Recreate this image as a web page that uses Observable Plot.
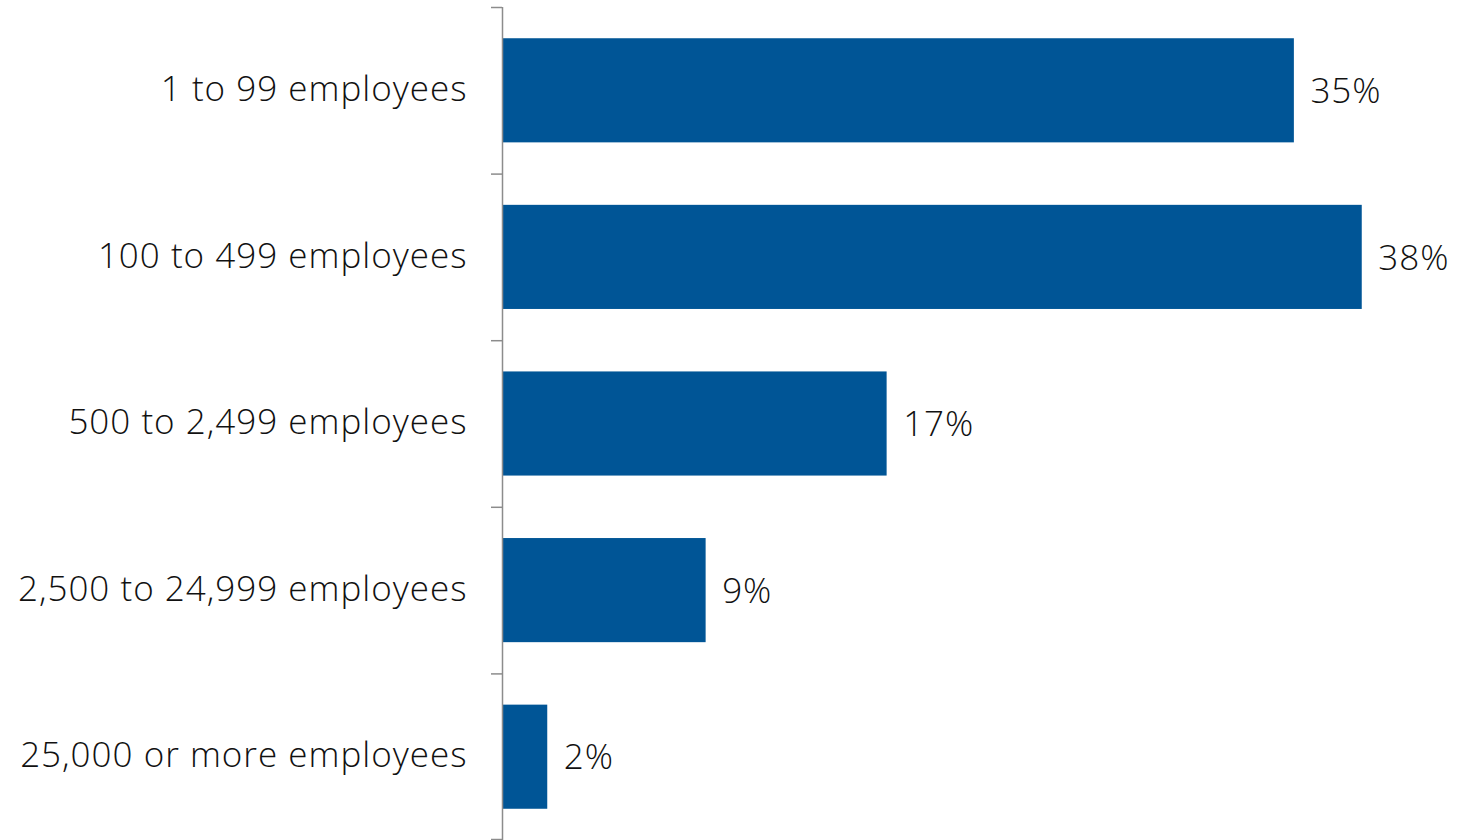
<!DOCTYPE html>
<html>
<head>
<meta charset="utf-8">
<script src="https://cdn.jsdelivr.net/npm/d3@7"></script>
<script src="https://cdn.jsdelivr.net/npm/@observablehq/plot@0.6"></script>
<style>
  html, body { margin: 0; padding: 0; background: #fff; }
  #chart svg { display: block; }
</style>
</head>
<body>
<div id="chart"></div>
<script>
const categories = [
  "1 to 99 employees",
  "100 to 499 employees",
  "500 to 2,499 employees",
  "2,500 to 24,999 employees",
  "25,000 or more employees"
];
const values = [35, 38, 17, 9, 2];

const data = categories.map((c, i) => ({category: c, value: values[i]}));

const W = 1468, H = 840, mTop = 7, mBottom = 0;
const step = (H - mTop - mBottom) / categories.length;
const font = "'Open Sans', Lato, sans-serif";
const fs = 35;
const axisColor = "#8c8c8c";

const chart = Plot.plot({
  width: W,
  height: H,
  marginLeft: 502,
  marginRight: 61,
  marginTop: mTop,
  marginBottom: mBottom,
  style: {fontFamily: font, fontWeight: 300, background: "#fff", color: "#111", letterSpacing: "1px"},
  x: {domain: [0, 40], axis: null},
  y: {domain: categories, paddingInner: 0.375, paddingOuter: 0.1875, round: false, label: null},
  marks: [
    Plot.barX(data, {x: "value", y: "category", fill: "#005596"}),
    Plot.ruleX([0], {stroke: axisColor, strokeWidth: 1.5}),
    Plot.axisY({tickSize: 0, tickPadding: 35, fontSize: fs, fill: "#111", label: null, dy: -1}),
    Plot.axisY({text: null, tickSize: 11, stroke: axisColor, strokeWidth: 1.5, dy: -step / 2, label: null}),
    Plot.axisY({ticks: [categories[categories.length - 1]], text: null, tickSize: 11, stroke: axisColor, strokeWidth: 1.5, dy: step / 2 - 1, label: null}),
    Plot.text(data, {x: "value", y: "category", text: d => `${d.value}%`, dx: 16, dy: 1, textAnchor: "start", fontSize: fs, fill: "#111"})
  ]
});
document.getElementById("chart").appendChild(chart);
</script>
</body>
</html>
